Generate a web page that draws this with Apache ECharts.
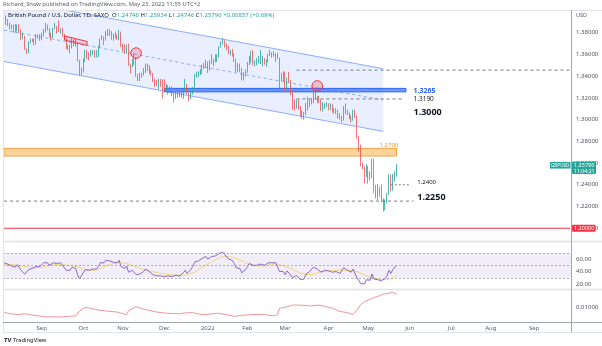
<!DOCTYPE html>
<html><head><meta charset="utf-8">
<script src="https://cdn.jsdelivr.net/npm/echarts@6/dist/echarts.min.js"></script>
<style>html,body{margin:0;padding:0;background:#fff}#c{width:602px;height:346px}</style>
</head><body><div id="c"></div>
<script>
// ---------------- DATA ----------------
const firstDay = '2021-08-04';
const lastDay = '2022-09-28';
// daily GBP/USD candles [open, high, low, close], from 2021-08-04 to 2022-05-23
const ohlc = [
[1.3920,1.3960,1.3870,1.3895],[1.3895,1.3958,1.3870,1.3910],[1.3910,1.3925,1.3860,1.3875],[1.3875,1.3890,1.3830,1.3860],[1.3860,1.3875,1.3830,1.3845],
[1.3845,1.3875,1.3800,1.3865],[1.3865,1.3880,1.3800,1.3815],[1.3815,1.3875,1.3810,1.3870],[1.3870,1.3880,1.3800,1.3825],[1.3825,1.3830,1.3730,1.3745],
[1.3745,1.3800,1.3740,1.3765],[1.3765,1.3770,1.3640,1.3645],[1.3645,1.3655,1.3600,1.3620],[1.3620,1.3720,1.3610,1.3710],[1.3710,1.3745,1.3700,1.3735],
[1.3735,1.3745,1.3715,1.3730],[1.3730,1.3745,1.3685,1.3710],[1.3710,1.3785,1.3690,1.3760],[1.3760,1.3785,1.3745,1.3765],[1.3765,1.3785,1.3725,1.3755],
[1.3755,1.3800,1.3730,1.3775],[1.3775,1.3835,1.3765,1.3830],[1.3830,1.3890,1.3800,1.3870],[1.3870,1.3875,1.3820,1.3830],[1.3830,1.3840,1.3755,1.3770],
[1.3770,1.3800,1.3725,1.3760],[1.3760,1.3845,1.3750,1.3835],[1.3835,1.3890,1.3830,1.3840],[1.3840,1.3860,1.3790,1.3830],[1.3830,1.3913,1.3805,1.3810],
[1.3810,1.3840,1.3790,1.3835],[1.3835,1.3845,1.3765,1.3785],[1.3785,1.3790,1.3730,1.3735],[1.3735,1.3745,1.3650,1.3665],[1.3665,1.3690,1.3640,1.3660],
[1.3660,1.3690,1.3610,1.3670],[1.3670,1.3750,1.3655,1.3730],[1.3730,1.3735,1.3675,1.3680],[1.3680,1.3745,1.3670,1.3700],[1.3700,1.3710,1.3535,1.3540],
[1.3540,1.3550,1.3410,1.3415],[1.3415,1.3480,1.3410,1.3470],[1.3470,1.3560,1.3435,1.3540],[1.3540,1.3640,1.3530,1.3615],[1.3615,1.3640,1.3560,1.3605],
[1.3605,1.3620,1.3545,1.3595],[1.3595,1.3640,1.3580,1.3610],[1.3610,1.3640,1.3595,1.3620],[1.3620,1.3640,1.3570,1.3590],[1.3590,1.3640,1.3570,1.3610],
[1.3610,1.3680,1.3575,1.3665],[1.3665,1.3745,1.3660,1.3740],[1.3740,1.3775,1.3730,1.3750],[1.3750,1.3765,1.3685,1.3735],[1.3735,1.3815,1.3725,1.3800],
[1.3800,1.3835,1.3770,1.3825],[1.3825,1.3830,1.3770,1.3785],[1.3785,1.3815,1.3735,1.3760],[1.3760,1.3790,1.3725,1.3765],[1.3765,1.3810,1.3745,1.3760],
[1.3760,1.3785,1.3735,1.3745],[1.3745,1.3825,1.3730,1.3805],[1.3805,1.3810,1.3670,1.3680],[1.3680,1.3700,1.3630,1.3665],[1.3665,1.3695,1.3605,1.3620],
[1.3620,1.3690,1.3605,1.3680],[1.3680,1.3700,1.3495,1.3505],[1.3505,1.3515,1.3425,1.3495],[1.3495,1.3560,1.3480,1.3550],[1.3550,1.3607,1.3500,1.3555],
[1.3555,1.3575,1.3395,1.3400],[1.3400,1.3420,1.3355,1.3410],[1.3410,1.3430,1.3355,1.3415],[1.3415,1.3430,1.3385,1.3420],[1.3420,1.3475,1.3405,1.3450],
[1.3450,1.3515,1.3430,1.3500],[1.3500,1.3515,1.3445,1.3495],[1.3495,1.3500,1.3420,1.3440],[1.3440,1.3460,1.3400,1.3405],[1.3405,1.3430,1.3345,1.3360],
[1.3360,1.3375,1.3300,1.3330],[1.3330,1.3365,1.3310,1.3325],[1.3325,1.3375,1.3280,1.3335],[1.3335,1.3375,1.3300,1.3315],[1.3315,1.3370,1.3195,1.3300],
[1.3300,1.3370,1.3265,1.3275],[1.3275,1.3330,1.3260,1.3305],[1.3305,1.3315,1.3230,1.3270],[1.3270,1.3305,1.3240,1.3285],[1.3285,1.3305,1.3215,1.3240],
[1.3240,1.3245,1.3160,1.3205],[1.3205,1.3265,1.3190,1.3250],[1.3250,1.3275,1.3200,1.3265],[1.3265,1.3275,1.3205,1.3215],[1.3215,1.3265,1.3200,1.3235],
[1.3235,1.3285,1.3190,1.3280],[1.3280,1.3375,1.3265,1.3325],[1.3325,1.3330,1.3235,1.3240],[1.3240,1.3245,1.3170,1.3215],[1.3215,1.3260,1.3190,1.3245],
[1.3245,1.3300,1.3230,1.3295],[1.3295,1.3420,1.3285,1.3405],[1.3405,1.3440,1.3385,1.3405],[1.3405,1.3445,1.3390,1.3430],[1.3430,1.3465,1.3410,1.3435],
[1.3435,1.3505,1.3420,1.3495],[1.3495,1.3520,1.3465,1.3505],[1.3505,1.3550,1.3475,1.3530],[1.3530,1.3535,1.3430,1.3490],[1.3490,1.3545,1.3450,1.3525],
[1.3525,1.3600,1.3510,1.3555],[1.3555,1.3560,1.3490,1.3540],[1.3540,1.3600,1.3525,1.3590],[1.3590,1.3600,1.3530,1.3590],[1.3590,1.3675,1.3570,1.3670],
[1.3670,1.3720,1.3660,1.3715],[1.3715,1.3749,1.3690,1.3715],[1.3715,1.3730,1.3665,1.3680],[1.3680,1.3700,1.3640,1.3665],[1.3665,1.3680,1.3600,1.3615],
[1.3615,1.3640,1.3590,1.3615],[1.3615,1.3650,1.3580,1.3595],[1.3595,1.3610,1.3530,1.3550],[1.3550,1.3560,1.3440,1.3480],[1.3480,1.3520,1.3440,1.3500],
[1.3500,1.3515,1.3435,1.3465],[1.3465,1.3475,1.3360,1.3390],[1.3390,1.3435,1.3360,1.3410],[1.3410,1.3460,1.3395,1.3445],[1.3445,1.3530,1.3430,1.3510],
[1.3510,1.3585,1.3500,1.3580],[1.3580,1.3630,1.3520,1.3600],[1.3600,1.3640,1.3500,1.3530],[1.3530,1.3545,1.3490,1.3530],[1.3530,1.3565,1.3500,1.3535],
[1.3535,1.3585,1.3520,1.3550],[1.3550,1.3640,1.3510,1.3560],[1.3560,1.3585,1.3490,1.3560],[1.3560,1.3565,1.3505,1.3530],[1.3530,1.3555,1.3485,1.3535],
[1.3535,1.3605,1.3525,1.3590],[1.3590,1.3640,1.3585,1.3610],[1.3610,1.3620,1.3570,1.3590],[1.3590,1.3630,1.3580,1.3590],[1.3590,1.3610,1.3530,1.3595],
[1.3595,1.3615,1.3560,1.3565],[1.3565,1.3570,1.3270,1.3385],[1.3385,1.3430,1.3355,1.3410],[1.3410,1.3445,1.3350,1.3410],[1.3410,1.3440,1.3265,1.3290],
[1.3290,1.3385,1.3275,1.3375],[1.3375,1.3440,1.3345,1.3355],[1.3355,1.3365,1.3225,1.3245],[1.3245,1.3255,1.3090,1.3160],[1.3160,1.3185,1.3085,1.3105],
[1.3105,1.3185,1.3100,1.3180],[1.3180,1.3185,1.3090,1.3110],[1.3110,1.3125,1.3030,1.3040],[1.3040,1.3085,1.3010,1.3035],[1.3035,1.3070,1.3000,1.3045],
[1.3045,1.3155,1.3040,1.3145],[1.3145,1.3210,1.3085,1.3170],[1.3170,1.3185,1.3115,1.3180],[1.3180,1.3195,1.3140,1.3175],[1.3175,1.3260,1.3150,1.3255],
[1.3255,1.3298,1.3190,1.3200],[1.3200,1.3220,1.3150,1.3190],[1.3190,1.3215,1.3155,1.3180],[1.3180,1.3185,1.3080,1.3090],[1.3090,1.3160,1.3075,1.3110],
[1.3110,1.3150,1.3095,1.3140],[1.3140,1.3160,1.3115,1.3140],[1.3140,1.3150,1.3085,1.3115],[1.3115,1.3150,1.3085,1.3125],[1.3125,1.3140,1.3065,1.3070],
[1.3070,1.3110,1.3055,1.3075],[1.3075,1.3105,1.3050,1.3070],[1.3070,1.3090,1.3010,1.3030],[1.3030,1.3060,1.3000,1.3025],[1.3025,1.3035,1.2975,1.3000],
[1.3000,1.3125,1.2990,1.3120],[1.3120,1.3148,1.3050,1.3065],[1.3065,1.3090,1.3040,1.3060],[1.3060,1.3065,1.3005,1.3015],[1.3015,1.3040,1.2975,1.3000],
[1.3000,1.3090,1.2990,1.3070],[1.3070,1.3090,1.3015,1.3035],[1.3035,1.3040,1.2825,1.2840],[1.2840,1.2850,1.2705,1.2730],[1.2730,1.2770,1.2570,1.2580],
[1.2580,1.2605,1.2540,1.2560],[1.2560,1.2570,1.2410,1.2480],[1.2480,1.2590,1.2470,1.2570],[1.2570,1.2575,1.2410,1.2490],[1.2490,1.2525,1.2440,1.2495],
[1.2495,1.2640,1.2460,1.2625],[1.2625,1.2640,1.2325,1.2355],[1.2355,1.2400,1.2275,1.2340],[1.2340,1.2405,1.2260,1.2330],[1.2330,1.2380,1.2290,1.2320],
[1.2320,1.2405,1.2240,1.2245],[1.2245,1.2275,1.2155,1.2200],[1.2200,1.2265,1.2165,1.2260],[1.2260,1.2325,1.2230,1.2315],[1.2315,1.2500,1.2310,1.2490],
[1.2490,1.2495,1.2340,1.2345],[1.2345,1.2500,1.2345,1.2475],[1.2475,1.2525,1.2430,1.2475],[1.24746,1.25934,1.24746,1.25796]
];
// RSI(14), one value per candle
const rsi = [
54,56,52,50,49,51,47,51,48,42,44,36,35,43,46,45,44,48,49,48,
50,54,57,54,50,49,54,55,53,52,54,50,47,42,42,42,47,44,45,35,28,33,
38,43,43,42,43,44,42,44,48,54,55,54,58,60,57,55,55,55,54,58,48,
47,45,49,39,38,42,44,35,36,36,37,40,44,44,40,38,35,33,33,34,33,33,
32,35,33,34,32,30,34,36,33,35,38,42,37,40,43,48,55,55,57,57,61,62,64,
60,62,64,62,65,65,69,72,71,67,65,60,60,58,53,46,48,45,38,40,43,
48,53,55,50,50,50,51,52,52,50,50,54,56,54,54,54,53,40,41,40,
35,41,40,34,30,28,34,31,27,27,28,36,39,40,40,47,46,44,43,39,41,42,42,
41,42,39,40,40,38,37,36,46,43,42,40,39,44,42,30,26,21,21,20,27,
25,26,36,28,28,27,27,25,23,29,33,42,37,43,44,50
];
// RSI moving average, read at [candle index, value]
const rsiMA = [[0,51],[4,51],[10,48],[18,46],[26,51],[34,50],[40,47],[44,43],[48,42],[52,46],[58,53],[62,54],[66,52],[72,45],[80,39],[88,35],[94,34],[100,38],[104,45],[108,52],[113,60],[117,64],[121,63],[126,57],[130,51],[137,49],[143,52],[148,49],[153,43],[158,37],[163,35],[167,39],[174,42],[182,42],[188,39],[192,33],[198,28],[203,27],[208,34]];
// lower indicator, read at [candle index, value]
const lowerInd = [[0,0.0085],[3,0.0079],[8,0.0076],[11,0.0079],[14,0.0076],[17,0.0073],[22,0.0068],[26,0.0069],[30,0.0068],[34,0.0070],[38,0.0072],[39,0.0078],[40,0.0088],[41,0.0092],[43,0.0101],[46,0.0098],[50,0.0092],[55,0.0088],[60,0.0085],[63,0.0079],[65,0.0076],[66,0.0090],[67,0.0096],[70,0.0103],[72,0.0099],[76,0.0092],[81,0.0085],[86,0.0081],[90,0.0080],[93,0.0079],[96,0.0082],[100,0.0083],[102,0.0079],[107,0.0076],[113,0.0081],[118,0.0076],[122,0.0070],[126,0.0074],[132,0.0076],[137,0.0077],[143,0.0072],[145,0.0076],[146,0.0098],[150,0.0103],[153,0.0109],[157,0.0109],[162,0.0106],[167,0.0109],[171,0.0103],[174,0.0098],[178,0.0087],[182,0.0083],[185,0.0076],[187,0.0092],[189,0.0110],[191,0.0120],[193,0.0126],[196,0.0135],[199,0.0141],[201,0.0147],[204,0.0150],[206,0.0153],[208,0.0146]];
// drawings (candle index, price)
const channelUpper = [[0,1.4111],[201,1.3468]];
const channelLower = [[0,1.3534],[201,1.2891]];
const channelMid = [[0,1.38225],[201,1.31795]];
const orangeZone = [0,207.5,1.2665,1.2735];
const blueZone = [84.5,213,1.3255,1.3287];
const levelDash1 = [[155,1.3455],[300,1.3455]];
const levelDash2 = [[155,1.3190],[212,1.3190]];
const levelDash3 = [[205,1.2400],[215,1.2400]];
const levelDash4 = [[0,1.2250],[217,1.2250]];
const levelRed = [[0,1.2000],[300,1.2000]];
const redBoxPts = [[31.8,1.3770],[43.5,1.3719],[43.5,1.3682],[31.8,1.3733]];
const circlePts = [[69.5,1.3612],[165.6,1.3309]];
const levelTexts = ['1.3265','1.3190','1.3000','1.2700','1.2400','1.2250'];
const levelTextAt = [[217,1.3263],[217,1.3185],[217,1.3065],[199,1.2766],[219,1.2426],[219,1.2288]];
const lastPrice = 1.25796;
const headerLine1 = 'Richard_Snow published on TradingView.com, May 23, 2022 11:55 UTC+2';
const symbolName = 'British Pound / U.S. Dollar, 1D, SAXO';
const ohlcLabels = ['O','H','L','C'];
const ohlcHeader = ['1.24746','1.25934','1.24746','1.25796'];
const changeText = '+0.00857 (+0.69%)';
const monthAbbr = ['Jan','Feb','Mar','Apr','May','Jun','Jul','Aug','Sep','Oct','Nov','Dec'];

// ---------------- BUILD ----------------
function weekdays(a,b){
  const out=[]; let d=new Date(a+'T00:00:00Z'); const e=new Date(b+'T00:00:00Z');
  while(d<=e){const w=d.getUTCDay(); if(w!==0&&w!==6) out.push(d.toISOString().slice(0,10)); d=new Date(d.getTime()+86400000);}
  return out;
}
const categories = weekdays(firstDay,lastDay);
const isMonthStart = categories.map((d,i)=> i>0 && d.slice(5,7)!==categories[i-1].slice(5,7));
const FONT = '"Noto Sans", sans-serif';
const UP='#26a69a', DOWN='#ef5350';

const chart = echarts.init(document.getElementById('c'));
const xBase = {type:'category', data:categories, boundaryGap:true, axisLine:{show:false}, axisTick:{show:false}, splitLine:{show:false}};
const G = {left:3.06, width:568};

function lineSeries(data, color, type, width, z){
  return {type:'line', xAxisIndex:0, yAxisIndex:0, data, symbol:'none', silent:true, animation:false, z:z||3,
    lineStyle:{color, width:width||1, type:type||'solid'}};
}

const option = {
  animation:false,
  backgroundColor:'#fff',
  grid:[
    {left:G.left, width:G.width, top:10.9, height:239.1},
    {left:G.left, width:G.width, top:234.05, height:62.5},
    {left:G.left, width:G.width, top:290.3, height:31.9}
  ],
  xAxis:[
    Object.assign({gridIndex:0, axisLabel:{show:false}}, xBase),
    Object.assign({gridIndex:1, axisLabel:{show:false}}, xBase),
    Object.assign({gridIndex:2, axisLabel:{show:true, fontSize:6, color:'#5d606b', fontFamily:FONT, margin:3,
      interval:(i)=>isMonthStart[i],
      formatter:(v)=>{const m=+v.slice(5,7); return m===1? v.slice(0,4) : monthAbbr[m-1];}}}, xBase)
  ],
  yAxis:[
    {gridIndex:0, type:'value', position:'right', min:1.18, max:1.40, interval:0.02, splitLine:{show:false}, axisLine:{show:false}, axisTick:{show:false},
      axisLabel:{fontSize:6, color:'#50535e', fontFamily:FONT, margin:5, formatter:v=>(v>1.19&&v<1.39)?v.toFixed(5):''}},
    {gridIndex:1, type:'value', position:'right', min:0, max:100, interval:20, splitLine:{show:false}, axisLine:{show:false}, axisTick:{show:false},
      axisLabel:{fontSize:6, color:'#50535e', fontFamily:FONT, margin:5, formatter:v=>(v>=20&&v<=60)?v.toFixed(2):''}},
    {gridIndex:2, type:'value', position:'right', min:0.005, max:0.016, interval:0.005, splitLine:{show:false}, axisLine:{show:false}, axisTick:{show:false},
      axisLabel:{fontSize:6, color:'#50535e', fontFamily:FONT, margin:5, formatter:v=>Math.abs(v-0.01)<1e-7?'0.01000':''}}
  ],
  series:[
    {type:'custom', xAxisIndex:0, yAxisIndex:0, clip:true, silent:true, z:1, data:[[0,1.3]],
      renderItem:(p,api)=>({type:'polygon', shape:{points:[api.coord(channelUpper[0]),api.coord(channelUpper[1]),api.coord(channelLower[1]),api.coord(channelLower[0])]},
        style:{fill:'rgba(41,98,255,0.1)'}})},
    lineSeries(channelUpper,'rgba(41,98,255,0.5)','solid',1,2),
    lineSeries(channelLower,'rgba(41,98,255,0.5)','solid',1,2),
    lineSeries(channelMid,'rgba(41,98,255,0.5)',[3,3],1,2),
    {type:'custom', xAxisIndex:0, yAxisIndex:0, clip:true, silent:true, z:2, data:[orangeZone, blueZone],
      renderItem:(p,api)=>{
        const a=api.coord([api.value(0),api.value(3)]), b=api.coord([api.value(1),api.value(2)]);
        const st = p.dataIndex===0 ? {fill:'#fbd49c', stroke:'#f5a142', lineWidth:1} : {fill:'rgba(41,98,255,0.65)', stroke:'#2962ff', lineWidth:1};
        return {type:'rect', shape:{x:a[0], y:a[1], width:b[0]-a[0], height:b[1]-a[1]}, style:st};
      }},
    lineSeries(levelDash1,'#787b86',[3,3],1,3),
    lineSeries(levelDash2,'#787b86',[3,3],1,3),
    lineSeries(levelDash3,'#787b86',[2,2],1,3),
    lineSeries(levelDash4,'#787b86',[3,3],1,3),
    lineSeries(levelRed,'#f23645','solid',1.2,3),
    {type:'candlestick', xAxisIndex:0, yAxisIndex:0, z:4, barWidth:1.3,
      data: ohlc.map(r=>[r[0],r[3],r[2],r[1]]),
      itemStyle:{color:UP, color0:DOWN, borderColor:UP, borderColor0:DOWN, borderWidth:0.8}},
    {type:'custom', xAxisIndex:0, yAxisIndex:0, clip:true, silent:true, z:5, data:[[0,1.37]],
      renderItem:(p,api)=>({type:'polygon', shape:{points:redBoxPts.map(q=>api.coord(q))},
        style:{fill:'rgba(242,54,69,0.2)', stroke:'#f23645', lineWidth:1}})},
    {type:'custom', xAxisIndex:0, yAxisIndex:0, silent:true, z:5, data:circlePts,
      renderItem:(p,api)=>{const c=api.coord([api.value(0),api.value(1)]);
        return {type:'circle', shape:{cx:c[0], cy:c[1], r:5.3}, style:{fill:'rgba(242,54,69,0.25)', stroke:'#f23645', lineWidth:1}};}},
    {type:'custom', xAxisIndex:0, yAxisIndex:0, silent:true, z:6, data:levelTextAt,
      renderItem:(p,api)=>{const c=api.coord([api.value(0),api.value(1)]);
        const styles=[
          {fill:'#2962ff', font:'bold 7px '+FONT},
          {fill:'#131722', font:'6.5px '+FONT},
          {fill:'#131722', font:'bold 9px '+FONT},
          {fill:'#f7931a', font:'6px '+FONT},
          {fill:'#131722', font:'6px '+FONT},
          {fill:'#131722', font:'bold 9px '+FONT}];
        return {type:'text', x:c[0], y:c[1], style:Object.assign({text:levelTexts[p.dataIndex], align:'left', verticalAlign:'middle'}, styles[p.dataIndex])};
      }},
    {type:'line', xAxisIndex:1, yAxisIndex:1, data:rsi, symbol:'none', silent:true, z:4,
      lineStyle:{color:'#7e57c2', width:0.9},
      markArea:{silent:true, itemStyle:{color:'rgba(126,87,194,0.1)'}, data:[[{yAxis:30},{yAxis:70}]]},
      markLine:{silent:true, symbol:'none', label:{show:false}, lineStyle:{color:'#9598a1', type:[2,2], width:0.8},
        data:[{yAxis:30},{yAxis:50},{yAxis:70}]}},
    {type:'line', xAxisIndex:1, yAxisIndex:1, data:rsiMA, symbol:'none', silent:true, smooth:0.4, z:3,
      lineStyle:{color:'#f0d366', width:0.9}},
    {type:'line', xAxisIndex:2, yAxisIndex:2, data:lowerInd, symbol:'none', silent:true, z:3,
      lineStyle:{color:'#ec8a8f', width:0.9}}
  ]
};
chart.setOption(option);

const ly = chart.convertToPixel({yAxisIndex:0}, lastPrice);
const ry = chart.convertToPixel({yAxisIndex:0}, 1.20);
const richOHLC = {a:{fill:'#131722', font:'6px '+FONT}, v:{fill:UP, font:'6px '+FONT}};
let hdr = '{a|'+symbolName+'  }';
ohlcLabels.forEach((k,i)=>{hdr += '{a|'+k+'}{v|'+ohlcHeader[i]+'}{a| }';});
hdr += '{v|'+changeText+'}';
const sep = '#e0e3eb', dark='#a3a6af';
chart.setOption({graphic:[
  {type:'rect', shape:{x:0,y:0,width:602,height:10}, style:{fill:'#fff'}, z:50, silent:true},
  {type:'text', x:3, y:4.5, z:60, style:{text:headerLine1, fill:'#5d606b', font:'5.8px '+FONT, verticalAlign:'middle'}},
  {type:'text', x:8, y:15, z:60, style:{text:hdr, rich:richOHLC, verticalAlign:'middle'}},
  {type:'line', z:55, shape:{x1:3,y1:10.5,x2:602,y2:10.5}, style:{stroke:sep, lineWidth:1}},
  {type:'line', z:55, shape:{x1:3.5,y1:10.5,x2:3.5,y2:332}, style:{stroke:sep, lineWidth:1}},
  {type:'line', z:55, shape:{x1:3,y1:241.5,x2:602,y2:241.5}, style:{stroke:sep, lineWidth:1.5}},
  {type:'line', z:55, shape:{x1:3,y1:289.5,x2:602,y2:289.5}, style:{stroke:sep, lineWidth:1.5}},
  {type:'line', z:55, shape:{x1:3,y1:322.5,x2:602,y2:322.5}, style:{stroke:dark, lineWidth:1}},
  {type:'line', z:55, shape:{x1:3,y1:332.5,x2:602,y2:332.5}, style:{stroke:sep, lineWidth:1}},
  {type:'line', z:55, shape:{x1:571.5,y1:10.5,x2:571.5,y2:332.5}, style:{stroke:dark, lineWidth:1}},
  {type:'text', x:576, y:15.5, z:60, style:{text:'USD', fill:'#5d606b', font:'5.5px '+FONT, verticalAlign:'middle'}},
  {type:'rect', z:60, shape:{x:550,y:ly-3.3,width:20.5,height:6.6}, style:{fill:UP}},
  {type:'text', z:61, x:560.2, y:ly, style:{text:'GBPUSD', fill:'#fff', font:'4.6px '+FONT, align:'center', verticalAlign:'middle'}},
  {type:'rect', z:60, shape:{x:572,y:ly-3.8,width:24,height:12.6, r:1}, style:{fill:UP}},
  {type:'text', z:61, x:574, y:ly+0.2, style:{text:'1.25796', fill:'#fff', font:'5.5px '+FONT, verticalAlign:'middle'}},
  {type:'text', z:61, x:574, y:ly+5.8, style:{text:'11:04:21', fill:'#fff', font:'5.2px '+FONT, verticalAlign:'middle'}},
  {type:'rect', z:60, shape:{x:572,y:ry-3.5,width:23.5,height:7, r:1}, style:{fill:'#f23645'}},
  {type:'text', z:61, x:574, y:ry+0.2, style:{text:'1.20000', fill:'#fff', font:'5.5px '+FONT, verticalAlign:'middle'}},
  {type:'text', z:60, x:4, y:340, style:{text:'TV', fill:'#131722', font:'bold 6px '+FONT, verticalAlign:'middle'}},
  {type:'text', z:60, x:13, y:340, style:{text:'TradingView', fill:'#131722', font:'5.8px '+FONT, verticalAlign:'middle'}}
]});
</script>
</body></html>
